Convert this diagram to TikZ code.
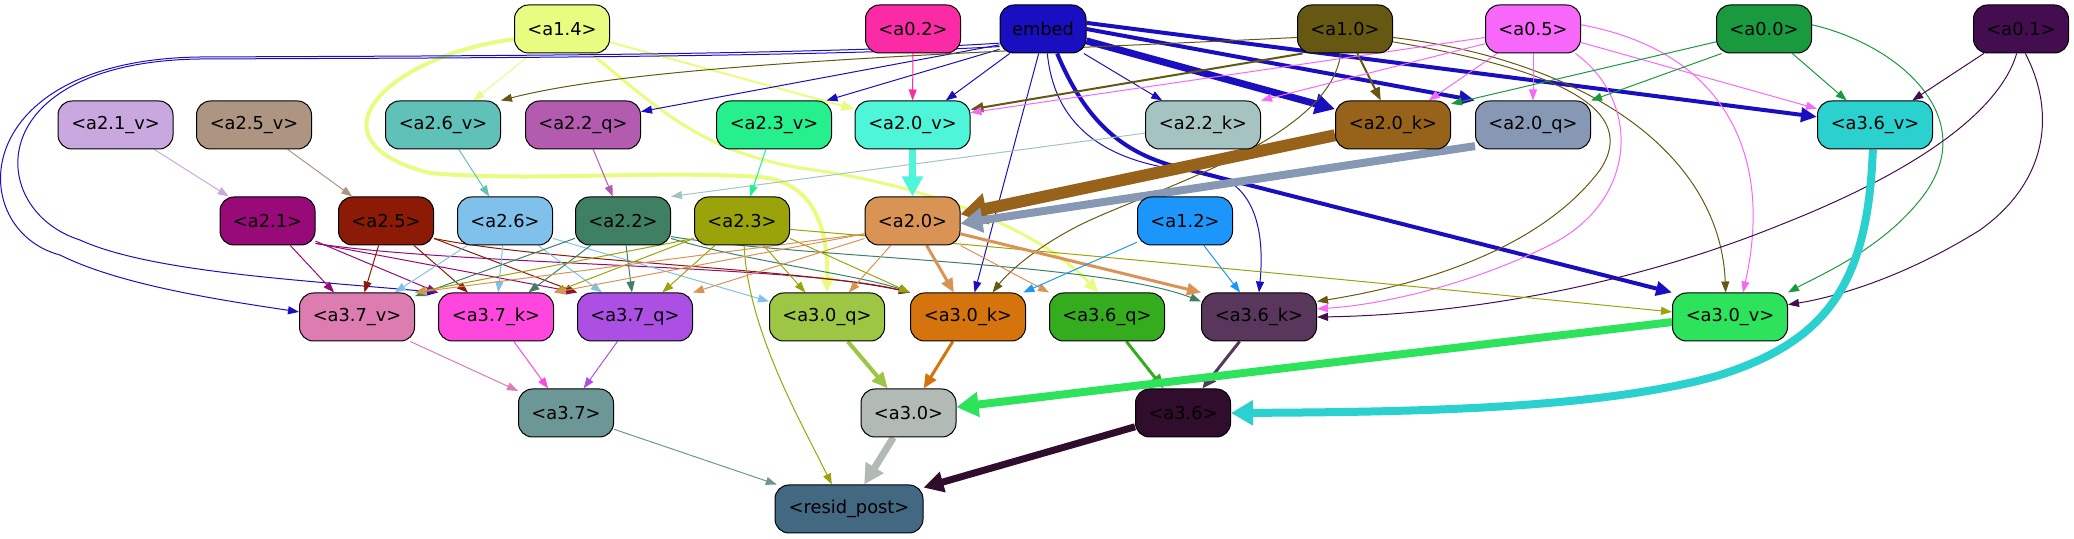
\documentclass[tikz,border=0pt]{standalone}
\usepackage{fontspec}
\setmainfont{DejaVu Sans}
\usetikzlibrary{arrows.meta}
\pgfdeclarelayer{edges}
\pgfsetlayers{edges,main}
\definecolor{c14}{HTML}{E8FC82}
\definecolor{c02}{HTML}{FA2BA4}
\definecolor{cEm}{HTML}{1A0FC0}
\definecolor{c10}{HTML}{665812}
\definecolor{c05}{HTML}{F767FA}
\definecolor{c00}{HTML}{199A3E}
\definecolor{c01}{HTML}{440D4F}
\definecolor{c21v}{HTML}{C9A8DF}
\definecolor{c25v}{HTML}{AD9582}
\definecolor{c26v}{HTML}{5FC1B8}
\definecolor{c22q}{HTML}{B35BAF}
\definecolor{c23v}{HTML}{26F08E}
\definecolor{c20v}{HTML}{4EF5D8}
\definecolor{c22k}{HTML}{A5C4C1}
\definecolor{c20k}{HTML}{97621A}
\definecolor{c20q}{HTML}{8798B4}
\definecolor{c36v}{HTML}{2BD1CE}
\definecolor{c21}{HTML}{970A78}
\definecolor{c25}{HTML}{8B1A06}
\definecolor{c26}{HTML}{80C1EC}
\definecolor{c22}{HTML}{3F8065}
\definecolor{c23}{HTML}{9BA30B}
\definecolor{c20}{HTML}{D89355}
\definecolor{c12}{HTML}{1C96FA}
\definecolor{c37v}{HTML}{DC7CB1}
\definecolor{c37k}{HTML}{FF47DD}
\definecolor{c37q}{HTML}{AC4FE3}
\definecolor{c30q}{HTML}{9CC644}
\definecolor{c30k}{HTML}{D5740C}
\definecolor{c36q}{HTML}{34AC1E}
\definecolor{c36k}{HTML}{59375D}
\definecolor{c30v}{HTML}{2EE35C}
\definecolor{c37}{HTML}{6D9696}
\definecolor{c30}{HTML}{B1BAB5}
\definecolor{c36}{HTML}{300D2C}
\definecolor{cres}{HTML}{436882}
\tikzset{
  nd/.style={draw=black, line width=0.5pt, rounded corners=7pt, minimum height=24pt,
    inner sep=0pt, font=\fontsize{8.9}{10}\selectfont},
  nn/.style={nd, minimum width=47.5pt},
  nw/.style={nd, minimum width=57.5pt},
  ed/.style={line width=0.5pt, -{Triangle[length=5.5pt,width=4pt]}},
  en/.style={line width=1pt, -{Triangle[length=6.5pt,width=5pt]}},
  em/.style={line width=1.5pt, -{Triangle[length=7pt,width=6pt]}},
  eb/.style={line width=2pt, -{Triangle[length=8pt,width=7pt]}},
  eh/.style={line width=3.5pt, -{Triangle[length=10pt,width=10pt]}},
  ehh/.style={line width=4pt, -{Triangle[length=11pt,width=12pt]}},
  ex/.style={line width=6pt, -{Triangle[length=13pt,width=15pt]}},
}
\begin{document}
\begin{tikzpicture}[x=0.5pt,y=-0.5pt]
\useasboundingbox (0,0) rectangle (2074,539);
% row 1
\node[nn, fill=c14] (a14) at (562,29) {<a1.4>};
\node[nn, fill=c02] (a02) at (913,29) {<a0.2>};
\node[nd, minimum width=43pt, fill=cEm] (embed) at (1043,29) {embed};
\node[nn, fill=c10] (a10) at (1345,29) {<a1.0>};
\node[nn, fill=c05] (a05) at (1533,29) {<a0.5>};
\node[nn, fill=c00] (a00) at (1764,29) {<a0.0>};
\node[nn, fill=c01] (a01) at (2021,29) {<a0.1>};
% row 2
\node[nw, fill=c21v] (a21v) at (115.5,125) {<a2.1\_v>};
\node[nw, fill=c25v] (a25v) at (254,125) {<a2.5\_v>};
\node[nw, fill=c26v] (a26v) at (443,125) {<a2.6\_v>};
\node[nw, fill=c22q] (a22q) at (583,125) {<a2.2\_q>};
\node[nw, fill=c23v] (a23v) at (774,125) {<a2.3\_v>};
\node[nw, fill=c20v] (a20v) at (912.5,125) {<a2.0\_v>};
\node[nw, fill=c22k] (a22k) at (1203,125) {<a2.2\_k>};
\node[nw, fill=c20k] (a20k) at (1393,125) {<a2.0\_k>};
\node[nw, fill=c20q] (a20q) at (1533,125) {<a2.0\_q>};
\node[nw, fill=c36v] (a36v) at (1875,125) {<a3.6\_v>};
% row 3
\node[nn, fill=c21] (a21) at (267.5,221) {<a2.1>};
\node[nn, fill=c25] (a25) at (386,221) {<a2.5>};
\node[nn, fill=c26] (a26) at (505,221) {<a2.6>};
\node[nn, fill=c22] (a22) at (623,221) {<a2.2>};
\node[nn, fill=c23] (a23) at (742,221) {<a2.3>};
\node[nn, fill=c20] (a20) at (912.5,221) {<a2.0>};
\node[nn, fill=c12] (a12) at (1185,221) {<a1.2>};
% row 4
\node[nw, fill=c37v] (a37v) at (357,317) {<a3.7\_v>};
\node[nw, fill=c37k] (a37k) at (496,317) {<a3.7\_k>};
\node[nw, fill=c37q] (a37q) at (635,317) {<a3.7\_q>};
\node[nw, fill=c30q] (a30q) at (827,317) {<a3.0\_q>};
\node[nw, fill=c30k] (a30k) at (968,317) {<a3.0\_k>};
\node[nw, fill=c36q] (a36q) at (1107,317) {<a3.6\_q>};
\node[nw, fill=c36k] (a36k) at (1259,317) {<a3.6\_k>};
\node[nw, fill=c30v] (a30v) at (1730,317) {<a3.0\_v>};
% row 5
\node[nn, fill=c37] (a37) at (566,413) {<a3.7>};
\node[nn, fill=c30] (a30) at (908.5,413) {<a3.0>};
\node[nn, fill=c36] (a36) at (1183,413) {<a3.6>};
% row 6
\node[nd, minimum width=74pt, fill=cres] (resid) at (849,509) {<resid\_post>};

\begin{pgfonlayer}{edges}
% a1.4
\draw[ed, c14] (a14) -- (a26v);
\draw[eb, c14] (a14.192) .. controls (390,55) and (300,140) .. (430,173) .. controls (530,182) and (650,170) .. (760,177) .. controls (815,182) and (828,230) .. (a30q.north);
\draw[em, c14] (a14.-40) .. controls (660,110) and (700,150) .. (800,168) .. controls (930,185) and (1040,230) .. (a36q.110);
\draw[en, c14] (a14) -- (a20v);
% embed
\draw[ed, cEm] (embed.198) .. controls (800,56) and (400,56) .. (200,57) .. controls (-35,60) and (-35,230) .. (60,255) .. controls (120,285) and (220,300) .. (a37v.175);
\draw[ed, cEm] (embed.202) .. controls (800,58) and (400,58) .. (200,59) .. controls (-20,62) and (-15,210) .. (80,240) .. controls (150,272) and (300,280) .. (a37k.north west);
\draw[ed, cEm] (embed.200) -- (a22q.13);
\draw[ed, cEm] (embed.205) -- (a23v.25);
\draw[ed, cEm] (embed) -- (a20v);
\draw[ed, cEm] (embed) -- (a22k);
\draw[eh, cEm] (embed) -- (a20k);
\draw[eb, cEm] (embed.east) -- (a20q.north west);
\draw[eb, cEm] (embed.8) -- (a36v.172);
\draw[eb, cEm] (embed.-60) .. controls (1085,120) and (1120,150) .. (1170,165) -- (a30v.north west);
\draw[ed, cEm] (embed.-100) -- (a30k.75);
\draw[ed, cEm] (embed.-80) .. controls (1055,130) and (1110,165) .. (1200,172) .. controls (1255,178) and (1265,230) .. (a36k.north);
% a1.0
\draw[ed, c10] (a10.190) .. controls (1000,52) and (650,62) .. (a26v.north east);
\draw[en, c10] (a10.210) -- (a20v.15);
\draw[en, c10] (a10) -- (a20k);
\draw[ed, c10] (a10.-100) .. controls (1330,140) and (1150,190) .. (1080,225) .. controls (1040,245) and (1010,270) .. (a30k.45);
\draw[ed, c10] (a10.-15) .. controls (1560,70) and (1640,110) .. (1600,170) .. controls (1540,250) and (1420,285) .. (a36k.15);
\draw[ed, c10] (a10.-10) .. controls (1580,60) and (1720,150) .. (a30v.100);
% a0.5
\draw[ed, c05] (a05.190) -- (a20v.12);
\draw[ed, c05] (a05.197) -- (a22k.north east);
\draw[ed, c05] (a05) -- (a20k);
\draw[ed, c05] (a05) -- (a20q);
\draw[ed, c05] (a05) -- (a36v);
\draw[ed, c05] (a05.-30) .. controls (1640,100) and (1640,200) .. (1550,245) .. controls (1470,285) and (1380,305) .. (a36k.8);
\draw[ed, c05] (a05.5) .. controls (1720,50) and (1775,150) .. (a30v.62);
% a0.0
\draw[ed, c00] (a00.195) -- (a20k.20);
\draw[ed, c00] (a00.210) -- (a20q.north east);
\draw[ed, c00] (a00) -- (a36v);
\draw[ed, c00] (a00.5) .. controls (1900,45) and (1985,120) .. (1920,200) .. controls (1880,250) and (1820,275) .. (a30v.north east);
% a0.1
\draw[ed, c01] (a01) -- (a36v);
\draw[ed, c01] (a01.-100) .. controls (2000,110) and (1920,170) .. (1780,225) .. controls (1620,290) and (1450,315) .. (a36k.east);
\draw[ed, c01] (a01.-80) .. controls (2055,110) and (2050,180) .. (1980,230) .. controls (1900,280) and (1830,298) .. (a30v.12);
% a0.2
\draw[ed, c02] (a02) -- (a20v);
% row 2 -> row 3
\draw[ed, c21v] (a21v) -- (a21);
\draw[ed, c25v] (a25v) -- (a25);
\draw[ed, c26v] (a26v) -- (a26);
\draw[ed, c22q] (a22q) -- (a22);
\draw[ed, c22k] (a22k.188) -- (a22.north east);
\draw[ed, c23v] (a23v) -- (a23);
\draw[eh, c20v] (a20v) -- (a20);
\draw[ex, c20k] (a20k.190) -- (a20.8);
\draw[ehh, c20q] (a20q.200) -- (a20.-3);
\draw[ehh, c36v] (a36v.-95) .. controls (1868,280) and (1830,340) .. (1720,375) .. controls (1600,410) and (1400,412) .. (a36.east);
% a2.1
\draw[ed, c21] (a21) -- (a37v);
\draw[ed, c21] (a21) -- (a37k);
\draw[ed, c21] (a21.-25) -- (a37q.north west);
\draw[ed, c21] (a21.-25) .. controls (450,265) and (800,265) .. (a30k.north west);
% a2.5
\draw[ed, c25] (a25) -- (a37v);
\draw[ed, c25] (a25) -- (a37k);
\draw[ed, c25] (a25.-20) -- (a37q.north west);
\draw[ed, c25] (a25.-20) .. controls (550,262) and (800,268) .. (a30k.north west);
% a2.6
\draw[ed, c26] (a26) -- (a37v);
\draw[ed, c26] (a26) -- (a37k);
\draw[ed, c26] (a26) -- (a37q);
\draw[ed, c26] (a26.-20) -- (a30q.165);
% a2.2
\draw[ed, c22] (a22) -- (a37v);
\draw[ed, c22] (a22) -- (a37k);
\draw[ed, c22] (a22) -- (a37q);
\draw[ed, c22] (a22.-20) .. controls (750,262) and (860,275) .. (a30k.north west);
\draw[ed, c22] (a22.-18) .. controls (800,258) and (1100,262) .. (a36k.165);
% a2.3
\draw[ed, c23] (a23.200) -- (a37v.north east);
\draw[ed, c23] (a23.200) -- (a37k.north east);
\draw[ed, c23] (a23) -- (a37q);
\draw[ed, c23] (a23) -- (a30q);
\draw[ed, c23] (a23.-20) -- (a30k.north west);
\draw[ed, c23] (a23.-10) .. controls (1100,255) and (1500,295) .. (a30v.175);
\draw[ed, c23] (a23.-85) .. controls (748,330) and (800,420) .. (resid.125);
% a2.0
\draw[ed, c20] (a20.195) -- (a37v.north east);
\draw[ed, c20] (a20.195) -- (a37k.north east);
\draw[ed, c20] (a20.200) -- (a37q.north east);
\draw[ed, c20] (a20) -- (a30q);
\draw[em, c20] (a20) -- (a30k);
\draw[ed, c20] (a20.south east) -- (a36q.north west);
\draw[em, c20] (a20.-15) -- (a36k.north west);
% a1.2
\draw[ed, c12] (a12) -- (a30k);
\draw[ed, c12] (a12) -- (a36k);
% row 4 -> row 5
\draw[ed, c37v] (a37v) -- (a37);
\draw[ed, c37k] (a37k) -- (a37);
\draw[ed, c37q] (a37q) -- (a37);
\draw[eb, c30q] (a30q) -- (a30);
\draw[em, c30k] (a30k) -- (a30);
\draw[em, c36q] (a36q) -- (a36);
\draw[em, c36k] (a36k) -- (a36);
\draw[ehh, c30v] (a30v.185) -- (a30.7);
% row 5 -> resid
\draw[ed, c37] (a37) -- (resid);
\draw[eh, c30] (a30) -- (resid);
\draw[eh, c36] (a36) -- (resid);
\end{pgfonlayer}
\end{tikzpicture}
\end{document}
